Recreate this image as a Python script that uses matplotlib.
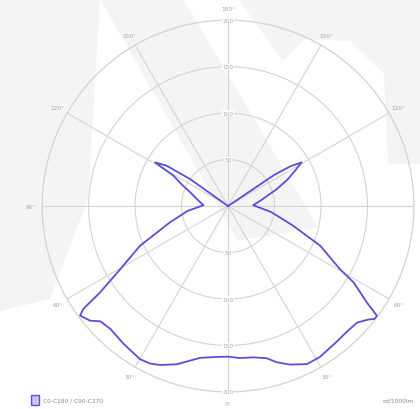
import numpy as np
import matplotlib.pyplot as plt
from matplotlib.patches import Rectangle, Polygon

# C0 half (drawn to the right), gamma in degrees from nadir, cd/1000lm
GAMMA_C0 = [0, 4.5, 9.5, 14.3, 17.3, 21.3, 26.5, 31.3, 38.6, 43.2, 47.9, 51, 52.4,
            53.6, 55.2, 58.7, 60.6, 66.7, 73.2, 82, 92, 100, 109, 114, 118, 120.7,
            122.5, 124, 124, 124]
CD_C0 = [162, 164, 165, 169, 176, 183, 190, 190, 187, 186, 187, 194, 199,
         199, 182, 158, 138, 108, 73, 47, 27, 36, 55, 70, 82, 92,
         80, 60, 33, 0]

# C180 half (drawn to the left)
GAMMA_C180 = [0, 4.9, 10.4, 18, 23.2, 26.3, 29.9, 37.2, 43.8, 47.9, 50.3, 53.5,
              54.6, 56, 59.7, 65.7, 74.3, 83, 92, 100, 109.8, 115, 119, 120.9,
              123.3, 125.4, 125.5]
CD_C180 = [162, 163, 166, 179, 186, 189, 190, 186, 183, 185, 193, 198,
           191, 166, 134, 104, 65, 44, 26.5, 32, 43, 55, 67, 91.5,
           79, 50, 0]

RINGS = [50, 100, 150, 200]
ANGLES_LEFT = [0, 30, 60, 90, 120, 150, 180]
ANGLES_RIGHT = [30, 60, 120, 150]   # 90° on the right falls outside the image
LEGEND_LABEL = "C0-C180 / C90-C270"
UNIT_LABEL = "cd/1000lm"

LINE_COLOR = "#5a4fd8"
GRID_COLOR = "#d4d4d4"
TEXT_COLOR = "#a8a8a8"
MARK_COLOR = "#f4f4f4"

W, H = 420, 410


def px(points):
    """pixel coords (from top-left) -> figure fraction"""
    return [(x / W, 1 - y / H) for x, y in points]


fig = plt.figure(figsize=(4.2, 4.1), dpi=100)

# faint watermark behind the diagram
for shape in (
    [(0, 0), (100, 0), (88, 200), (50, 300), (0, 312)],
    [(100, 0), (183, 0), (318, 228), (238, 242)],
    [(238, 0), (420, 0), (420, 165), (388, 165), (384, 75), (350, 42), (305, 40), (283, 62)],
):
    fig.patches.append(Polygon(px(shape), closed=True, transform=fig.transFigure,
                               facecolor=MARK_COLOR, edgecolor="none", zorder=-5))

ax = fig.add_axes([0.1, 0.0415, 0.886, 0.907], projection="polar")
ax.set_zorder(2)
ax.set_theta_zero_location("S")
ax.set_theta_direction(1)
ax.set_ylim(0, 200)
ax.set_facecolor("none")

# closed curve: left half from the top down to nadir, then right half back up
theta = np.concatenate([-np.radians(GAMMA_C180[::-1]), np.radians(GAMMA_C0)])
r = np.concatenate([CD_C180[::-1], CD_C0])
ax.plot(theta, r, color=LINE_COLOR, lw=1.3, zorder=5)

# grid
ax.set_yticks(RINGS)
ax.set_yticklabels([])
ax.set_xticks(np.radians(np.arange(0, 360, 30)))
ax.set_xticklabels([])
ax.grid(True, color=GRID_COLOR, lw=0.8)
ax.spines["polar"].set_color(GRID_COLOR)
ax.spines["polar"].set_linewidth(0.8)

# ring values along the vertical axis
for v in RINGS:
    for t in (0, np.pi):
        ax.text(t, v, str(v), ha="center", va="center", fontsize=4.2,
                color=TEXT_COLOR, zorder=4,
                bbox=dict(facecolor="white", edgecolor="none", pad=0.3))

# angle labels outside the ring
for a in ANGLES_LEFT:
    ax.text(-np.radians(a), 212, f"{a}°", ha="center", va="center",
            fontsize=4.2, color=TEXT_COLOR, clip_on=False)
for a in ANGLES_RIGHT:
    ax.text(np.radians(a), 212, f"{a}°", ha="center", va="center",
            fontsize=4.2, color=TEXT_COLOR, clip_on=False)

# footer
fig.patches.append(Rectangle((31 / W, 1 - 406 / H), 8 / W, 10 / H,
                             transform=fig.transFigure, facecolor="#c9c4f2",
                             edgecolor=LINE_COLOR, lw=1.0))
fig.text(43 / W, 1 - 401 / H, LEGEND_LABEL, fontsize=4.2, color="#8a8a8a",
         va="center", ha="left")
fig.text(414 / W, 1 - 401 / H, UNIT_LABEL, fontsize=4.2, color="#8a8a8a",
         va="center", ha="right")

fig.savefig("out.png", dpi=100, facecolor="white")
